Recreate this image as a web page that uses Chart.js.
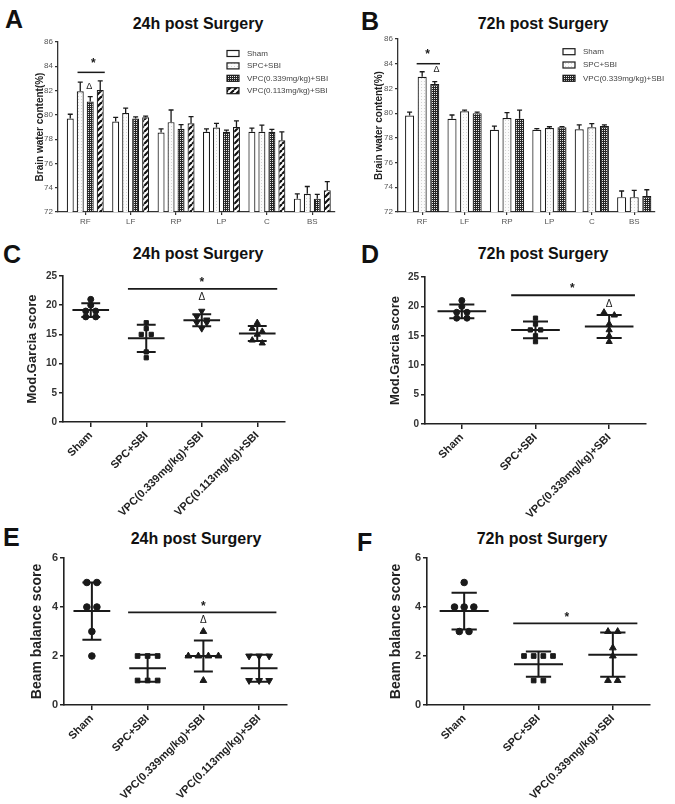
<!DOCTYPE html>
<html>
<head>
<meta charset="utf-8">
<script src="https://cdn.jsdelivr.net/npm/chart.js@4.4.0/dist/chart.umd.min.js"></script>
<style>
  body { margin: 0; background: #fff; font-family: "Liberation Sans", Arial, sans-serif; }
  #page { position: relative; width: 675px; height: 804px; overflow: hidden; }
  canvas { position: absolute; }
  .letter { position: absolute; font-weight: bold; font-size: 25px; line-height: 1; color: #111; }
  .title { position: absolute; width: 240px; margin-left: -120px; text-align: center;
           font-weight: bold; font-size: 16px; line-height: 1; color: #111; }
</style>
</head>
<body>
<div id="page">
  <div class="letter" style="left:5px;top:7px">A</div>
  <div class="title" style="left:198px;top:16px">24h post Surgery</div>
  <div class="letter" style="left:361px;top:9px">B</div>
  <div class="title" style="left:543px;top:16px">72h post Surgery</div>
  <div class="letter" style="left:3px;top:242px">C</div>
  <div class="title" style="left:198px;top:246px">24h post Surgery</div>
  <div class="letter" style="left:361px;top:242px">D</div>
  <div class="title" style="left:543px;top:246px">72h post Surgery</div>
  <div class="letter" style="left:3px;top:525px">E</div>
  <div class="title" style="left:196px;top:531px">24h post Surgery</div>
  <div class="letter" style="left:357px;top:530px">F</div>
  <div class="title" style="left:542px;top:531px">72h post Surgery</div>

  <canvas id="chartA"></canvas>
  <canvas id="chartB"></canvas>
  <canvas id="chartC"></canvas>
  <canvas id="chartD"></canvas>
  <canvas id="chartE"></canvas>
  <canvas id="chartF"></canvas>
</div>
<script>
// ---- data ----
const regions = ['RF', 'LF', 'RP', 'LP', 'C', 'BS'];
const groups24 = ['Sham', 'SPC+SBI', 'VPC(0.339mg/kg)+SBI', 'VPC(0.113mg/kg)+SBI'];
const groups72 = ['Sham', 'SPC+SBI', 'VPC(0.339mg/kg)+SBI'];

// brain water content (%), mean and upper SD
const water24Sham = [79.7, 79.45, 78.55, 78.6, 78.6, 73.1];
const water24Spc = [81.95, 80.15, 79.4, 78.95, 78.6, 73.5];
const water24Vpc339 = [81.1, 79.7, 78.85, 78.6, 78.6, 73.1];
const water24Vpc113 = [82.05, 79.8, 79.3, 79.0, 77.9, 73.8];
const water24ShamErr = [0.35, 0.35, 0.3, 0.25, 0.3, 0.4];
const water24SpcErr = [0.75, 0.4, 1.0, 0.35, 0.55, 0.6];
const water24Vpc339Err = [0.4, 0.13, 0.35, 0.15, 0.2, 0.35];
const water24Vpc113Err = [0.75, 0.1, 0.55, 0.5, 0.7, 0.7];

const water72Sham = [79.8, 79.55, 78.65, 78.65, 78.7, 73.2];
const water72Spc = [82.95, 80.15, 79.6, 78.8, 78.85, 73.2];
const water72Vpc339 = [82.35, 80.0, 79.55, 78.85, 78.95, 73.3];
const water72ShamErr = [0.28, 0.3, 0.3, 0.1, 0.35, 0.5];
const water72SpcErr = [0.4, 0.1, 0.45, 0.1, 0.3, 0.55];
const water72Vpc339Err = [0.2, 0.08, 0.7, 0.06, 0.1, 0.5];

// modified Garcia score, individual animals
const garcia24Sham = [21, 20, 19, 19, 18, 18];
const garcia24Spc = [17, 16, 15, 15, 12, 11];
const garcia24Vpc339 = [19, 18, 17.5, 17, 17, 16];
const garcia24Vpc113 = [17, 16, 15.5, 15, 14, 13.5];
const garcia72Sham = [21, 20, 19, 19, 18, 18];
const garcia72Spc = [18, 17, 16, 16, 15, 14];
const garcia72Vpc339 = [19, 18.5, 17, 16, 15, 14];

// beam balance score, individual animals
const beam24Sham = [5, 5, 4, 4, 3, 2];
const beam24Spc = [2, 2, 2, 1, 1, 1];
const beam24Vpc339 = [3, 2, 2, 2, 2, 1];
const beam24Vpc113 = [2, 2, 2, 1, 1, 1];
const beam72Sham = [5, 4, 4, 4, 3, 3];
const beam72Spc = [2, 2, 2, 2, 1, 1];
const beam72Vpc339 = [3, 3, 2.33, 2, 1, 1];

// ---- helpers ----
const FONT = '"Liberation Sans", Arial, sans-serif';
const INK = '#1a1a1a';

function place(cv, box) {
  cv.width = box.w; cv.height = box.h;
  cv.style.left = box.x + 'px'; cv.style.top = box.y + 'px';
  cv.style.width = box.w + 'px'; cv.style.height = box.h + 'px';
}

// padding / axis sizes so the plot area lands where the figure has it
function fitFor(box, area, yTitleX, titleSize) {
  const padLeft = yTitleX - box.x - titleSize * 0.6 - 4;
  return {
    padding: {left: padLeft, top: area.t - box.y, right: box.x + box.w - area.r, bottom: 0},
    yWidth: area.l - box.x - padLeft,
    xHeight: box.y + box.h - area.b
  };
}

function pattern(kind) {
  const c = document.createElement('canvas');
  const p = c.getContext('2d');
  if (kind === 'white') {
    c.width = c.height = 2; p.fillStyle = '#fff'; p.fillRect(0, 0, 2, 2);
  } else if (kind === 'light') {
    c.width = c.height = 3; p.fillStyle = '#fbfbfb'; p.fillRect(0, 0, 3, 3);
    p.fillStyle = '#d4d4d4'; p.fillRect(0, 0, 1, 1);
  } else if (kind === 'check') {
    c.width = c.height = 2; p.fillStyle = '#262626'; p.fillRect(0, 0, 2, 2);
    p.fillStyle = '#e8e8e8'; p.fillRect(0, 0, 1, 1);
  } else {
    c.width = c.height = 6; p.fillStyle = '#fff'; p.fillRect(0, 0, 6, 6);
    p.strokeStyle = '#111'; p.lineWidth = 2.2;
    [-6, 0, 6].forEach(k => { p.beginPath(); p.moveTo(k, 6); p.lineTo(k + 6, 0); p.stroke(); });
  }
  return p.createPattern(c, 'repeat');
}

// upper error bars on each bar
const errorBars = {
  id: 'errorBars',
  afterDatasetsDraw(chart) {
    const {ctx} = chart;
    const y = chart.scales.y;
    ctx.save();
    ctx.strokeStyle = INK; ctx.lineWidth = 1.3;
    chart.data.datasets.forEach((ds, i) => {
      chart.getDatasetMeta(i).data.forEach((bar, k) => {
        const top = y.getPixelForValue(ds.data[k].y + ds.errors[k]);
        ctx.beginPath();
        ctx.moveTo(bar.x, bar.y); ctx.lineTo(bar.x, top);
        ctx.moveTo(bar.x - 2.5, top); ctx.lineTo(bar.x + 2.5, top);
        ctx.stroke();
      });
    });
    ctx.restore();
  }
};

// legend drawn inside the plot, top right
const boxLegend = {
  id: 'boxLegend',
  afterDraw(chart, args, o) {
    const {ctx, chartArea} = chart;
    ctx.save();
    ctx.font = '8px ' + FONT; ctx.textBaseline = 'middle';
    chart.data.datasets.forEach((ds, i) => {
      const x = chartArea.right - o.fromRight;
      const y = chartArea.top + o.top + i * o.gap;
      ctx.fillStyle = ds.backgroundColor;
      ctx.fillRect(x, y - 3, 12, 6);
      ctx.strokeStyle = INK; ctx.lineWidth = 1.2;
      ctx.strokeRect(x, y - 3, 12, 6);
      ctx.fillStyle = '#444';
      ctx.fillText(ds.label, x + 20, y);
    });
    ctx.restore();
  }
};

// significance line, star and delta, given in data units
const sigMarks = {
  id: 'sigMarks',
  afterDraw(chart, args, o) {
    const {ctx} = chart;
    const x = chart.scales.x, y = chart.scales.y;
    ctx.save();
    ctx.strokeStyle = INK; ctx.lineWidth = o.lineWidth;
    ctx.beginPath();
    ctx.moveTo(x.getPixelForValue(o.x0), y.getPixelForValue(o.y));
    ctx.lineTo(x.getPixelForValue(o.x1), y.getPixelForValue(o.y));
    ctx.stroke();
    ctx.fillStyle = INK; ctx.textAlign = 'center'; ctx.textBaseline = 'middle';
    ctx.font = 'bold 12px ' + FONT;
    ctx.fillText('*', x.getPixelForValue(o.starX), y.getPixelForValue(o.starY) + 2);
    if (o.deltaX !== undefined) {
      ctx.font = o.deltaSize + 'px ' + FONT;
      ctx.fillText('Δ', x.getPixelForValue(o.deltaX), y.getPixelForValue(o.deltaY));
    }
    ctx.restore();
  }
};

// mean line with SD bars for each group of dots
const meanSd = {
  id: 'meanSd',
  afterDatasetsDraw(chart, args, o) {
    const {ctx} = chart;
    const x = chart.scales.x, y = chart.scales.y;
    ctx.save();
    ctx.strokeStyle = INK; ctx.lineWidth = 2;
    chart.data.datasets.forEach((ds, g) => {
      const v = ds.values;
      const m = v.reduce((a, b) => a + b, 0) / v.length;
      const sd = Math.sqrt(v.reduce((a, b) => a + (b - m) * (b - m), 0) / (v.length - 1));
      const seg = (xa, xb, ya, yb) => {
        ctx.moveTo(x.getPixelForValue(xa), y.getPixelForValue(ya));
        ctx.lineTo(x.getPixelForValue(xb), y.getPixelForValue(yb));
      };
      ctx.beginPath();
      seg(g - o.half, g + o.half, m, m);
      seg(g, g, m - sd, m + sd);
      seg(g - o.cap, g + o.cap, m + sd, m + sd);
      seg(g - o.cap, g + o.cap, m - sd, m - sd);
      ctx.stroke();
    });
    ctx.restore();
  }
};

// scores falling in the same bin sit side by side
function spread(values, step, bin) {
  const key = v => Math.round(v / bin);
  const seen = {};
  values.forEach(v => { seen[key(v)] = (seen[key(v)] || 0) + 1; });
  const used = {};
  return values.map(v => {
    const b = key(v);
    const k = used[b] = (used[b] || 0) + 1;
    return (k - 1 - (seen[b] - 1) / 2) * step;
  });
}

function barChart(id, box, area, yTitleX, series, xMin, xMax, catPct, barPct, legend, sig) {
  const L = fitFor(box, area, yTitleX, 10);
  const cv = document.getElementById(id);
  place(cv, box);
  return new Chart(cv, {
    type: 'bar',
    data: {
      datasets: series.map(s => ({
        label: s.label,
        data: s.values.map((v, i) => ({x: i, y: v})),
        errors: s.errors,
        backgroundColor: s.fill,
        borderColor: INK,
        borderWidth: 1.2,
        categoryPercentage: catPct,
        barPercentage: barPct
      }))
    },
    options: {
      responsive: false, animation: false, devicePixelRatio: 1,
      layout: {padding: L.padding},
      plugins: {legend: {display: false}, tooltip: {enabled: false}, boxLegend: legend, sigMarks: sig},
      scales: {
        x: {
          type: 'linear', min: xMin, max: xMax, offset: false,
          afterBuildTicks: s => { s.ticks = regions.map((r, i) => ({value: i})); },
          afterFit: s => { s.height = L.xHeight; },
          ticks: {callback: v => regions[v], maxRotation: 0, autoSkip: false, padding: 2,
                  color: '#555', font: {family: FONT, size: 8}},
          grid: {offset: false, drawOnChartArea: false, tickLength: 3, color: '#333', lineWidth: 1.2},
          border: {color: '#333', width: 1.3}
        },
        y: {
          min: 72, max: 86,
          afterFit: s => { s.width = L.yWidth; },
          ticks: {stepSize: 2, padding: 2, color: '#555', font: {family: FONT, size: 8}},
          grid: {drawOnChartArea: false, tickLength: 3, color: '#333', lineWidth: 1.2},
          border: {color: '#333', width: 1.3},
          title: {display: true, text: 'Brain water content(%)', color: '#222',
                  font: {family: FONT, size: 10, weight: 'bold'}}
        }
      }
    },
    plugins: [errorBars, boxLegend, sigMarks]
  });
}

function dotChart(id, box, area, yTitleX, cfg) {
  const L = fitFor(box, area, yTitleX, cfg.titleSize);
  const cv = document.getElementById(id);
  place(cv, box);
  return new Chart(cv, {
    type: 'scatter',
    data: {
      datasets: cfg.sets.map((vals, g) => {
        const off = spread(vals, cfg.step, cfg.bin);
        return {
          label: cfg.groups[g],
          values: vals,
          data: vals.map((v, k) => ({x: g + off[k], y: v})),
          pointStyle: cfg.marks[g][0],
          rotation: cfg.marks[g][1],
          pointRadius: cfg.marks[g][0] === 'triangle' ? cfg.radius + 0.6 : cfg.radius,
          backgroundColor: INK,
          borderColor: INK,
          borderWidth: 1
        };
      })
    },
    options: {
      responsive: false, animation: false, devicePixelRatio: 1,
      layout: {padding: L.padding},
      plugins: {legend: {display: false}, tooltip: {enabled: false},
                meanSd: {half: 0.33, cap: 0.17}, sigMarks: cfg.sig},
      scales: {
        x: {
          type: 'linear', min: -0.5, max: cfg.groups.length - 0.5, offset: false,
          afterBuildTicks: s => { s.ticks = cfg.groups.map((g, i) => ({value: i})); },
          afterFit: s => { s.height = L.xHeight; },
          ticks: {callback: v => cfg.groups[v], minRotation: 45, maxRotation: 45, autoSkip: false,
                  padding: 2, color: '#222', font: {family: FONT, size: 11, weight: 'bold'}},
          grid: {drawOnChartArea: false, tickLength: 5, color: '#222', lineWidth: 1.5},
          border: {color: '#222', width: 1.6}
        },
        y: {
          min: 0, max: cfg.yMax,
          afterFit: s => { s.width = L.yWidth; },
          ticks: {stepSize: cfg.yStep, padding: 2, color: '#333',
                  font: {family: FONT, size: cfg.tickSize, weight: 'bold'}},
          grid: {drawOnChartArea: false, tickLength: 4, color: '#222', lineWidth: 1.5},
          border: {color: '#222', width: 1.6},
          title: {display: true, text: cfg.yTitle, color: '#222',
                  font: {family: FONT, size: cfg.titleSize, weight: 'bold'}}
        }
      }
    },
    plugins: [meanSd, sigMarks]
  });
}

// ---- panels ----
barChart('chartA', {x: 0, y: 30, w: 340, h: 210}, {l: 58, t: 42, r: 335, b: 212}, 40, [
  {label: groups24[0], values: water24Sham, errors: water24ShamErr, fill: pattern('white')},
  {label: groups24[1], values: water24Spc, errors: water24SpcErr, fill: pattern('light')},
  {label: groups24[2], values: water24Vpc339, errors: water24Vpc339Err, fill: pattern('check')},
  {label: groups24[3], values: water24Vpc113, errors: water24Vpc113Err, fill: pattern('stripe')}
], -0.6, 5.5, 0.88, 0.7,
  {fromRight: 108, top: 11.5, gap: 12.4},
  {x0: -0.17, x1: 0.43, y: 83.5, lineWidth: 1.5, starX: 0.18, starY: 84.4, deltaX: 0.09, deltaY: 82.35, deltaSize: 9});

barChart('chartB', {x: 340, y: 30, w: 335, h: 210}, {l: 398, t: 39, r: 655, b: 212}, 379, [
  {label: groups72[0], values: water72Sham, errors: water72ShamErr, fill: pattern('white')},
  {label: groups72[1], values: water72Spc, errors: water72SpcErr, fill: pattern('light')},
  {label: groups72[2], values: water72Vpc339, errors: water72Vpc339Err, fill: pattern('check')}
], -0.57, 5.49, 0.89, 0.72,
  {fromRight: 92, top: 12.7, gap: 13.3},
  {x0: -0.13, x1: 0.42, y: 84.0, lineWidth: 1.5, starX: 0.13, starY: 84.9, deltaX: 0.34, deltaY: 83.55, deltaSize: 9});

dotChart('chartC', {x: 0, y: 262, w: 340, h: 270}, {l: 63, t: 276, r: 285, b: 422}, 32, {
  groups: groups24, sets: [garcia24Sham, garcia24Spc, garcia24Vpc339, garcia24Vpc113],
  marks: [['circle', 0], ['rect', 0], ['triangle', 180], ['triangle', 0]],
  step: 0.18, bin: 1, radius: 3, yMax: 25, yStep: 5, tickSize: 10,
  yTitle: 'Mod.Garcia score', titleSize: 13,
  sig: {x0: 0.67, x1: 3.36, y: 22.8, lineWidth: 1.8, starX: 2, starY: 24.2, deltaX: 2, deltaY: 21.4, deltaSize: 10}
});

dotChart('chartD', {x: 340, y: 262, w: 335, h: 270}, {l: 425, t: 277, r: 646, b: 424}, 395, {
  groups: groups72, sets: [garcia72Sham, garcia72Spc, garcia72Vpc339],
  marks: [['circle', 0], ['rect', 0], ['triangle', 0]],
  step: 0.14, bin: 1, radius: 3, yMax: 25, yStep: 5, tickSize: 10,
  yTitle: 'Mod.Garcia score', titleSize: 13,
  sig: {x0: 0.67, x1: 2.35, y: 21.9, lineWidth: 1.8, starX: 1.5, starY: 23.4, deltaX: 2, deltaY: 20.4, deltaSize: 10}
});

dotChart('chartE', {x: 0, y: 548, w: 340, h: 256}, {l: 64, t: 558, r: 287, b: 705}, 37, {
  groups: groups24, sets: [beam24Sham, beam24Spc, beam24Vpc339, beam24Vpc113],
  marks: [['circle', 0], ['rect', 0], ['triangle', 0], ['triangle', 180]],
  step: 0.18, bin: 0.5, radius: 3.3, yMax: 6, yStep: 2, tickSize: 11,
  yTitle: 'Beam balance score', titleSize: 14,
  sig: {x0: 0.65, x1: 3.31, y: 3.78, lineWidth: 1.8, starX: 2, starY: 4.1, deltaX: 2, deltaY: 3.47, deltaSize: 10}
});

dotChart('chartF', {x: 340, y: 548, w: 335, h: 256}, {l: 427, t: 558, r: 650, b: 705}, 396, {
  groups: groups72, sets: [beam72Sham, beam72Spc, beam72Vpc339],
  marks: [['circle', 0], ['rect', 0], ['triangle', 0]],
  step: 0.13, bin: 0.5, radius: 3.3, yMax: 6, yStep: 2, tickSize: 11,
  yTitle: 'Beam balance score', titleSize: 14,
  sig: {x0: 0.66, x1: 2.33, y: 3.33, lineWidth: 1.8, starX: 1.38, starY: 3.64}
});
</script>
</body>
</html>
